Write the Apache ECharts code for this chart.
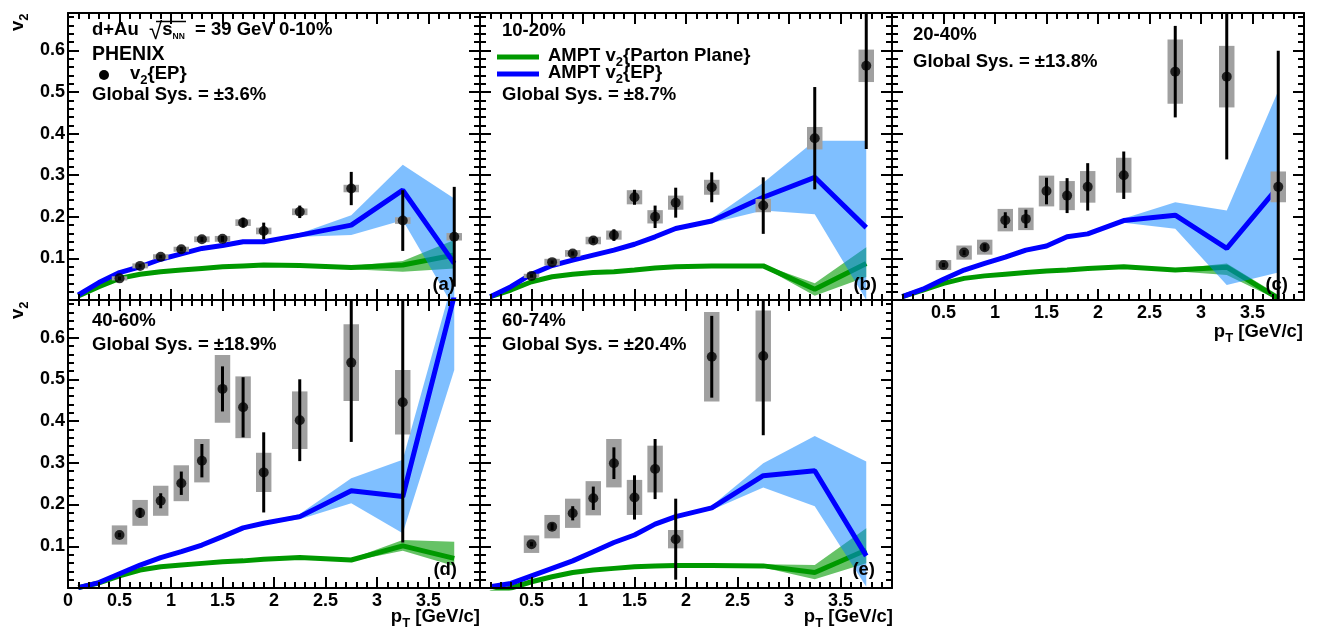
<!DOCTYPE html>
<html><head><meta charset="utf-8">
<script src="https://cdn.jsdelivr.net/npm/echarts@6/dist/echarts.min.js"></script>
<style>html,body{margin:0;padding:0;background:#fff}#c{width:1325px;height:632px}</style>
</head><body><div id="c"></div>
<script>
// ---------------- DATA ----------------
const ptData  = [0.5, 0.7, 0.9, 1.1, 1.3, 1.5, 1.7, 1.9, 2.25, 2.75, 3.25, 3.75];
const ptModel = [0.1, 0.3, 0.5, 0.7, 0.9, 1.1, 1.3, 1.5, 1.7, 1.9, 2.25, 2.75, 3.25, 3.75];
const ptBand  = [1.9, 2.25, 2.75, 3.25, 3.75];

// (a) 0-10%
const v2_a   = [0.052,0.082,0.104,0.122,0.146,0.147,0.186,0.166,0.212,0.268,0.191,0.152];
const stat_a = [0.004,0.004,0.004,0.005,0.006,0.007,0.012,0.020,0.015,0.040,0.073,0.120];
const sys_a  = [0.005,0.006,0.006,0.006,0.007,0.007,0.008,0.008,0.008,0.009,0.008,0.009];
const ep_a   = [0.012,0.042,0.066,0.080,0.098,0.111,0.124,0.131,0.140,0.140,0.156,0.180,0.264,0.088];
const epLo_a = [0.139,0.152,0.156,0.192,-0.020];
const epHi_a = [0.141,0.160,0.204,0.325,0.244];
const pp_a   = [0.010,0.032,0.052,0.062,0.068,0.072,0.076,0.080,0.082,0.084,0.083,0.078,0.084,0.108];
const ppLo_a = [0.083,0.081,0.074,0.068,0.076];
const ppHi_a = [0.085,0.085,0.082,0.094,0.144];

// (b) 10-20%
const v2_b   = [0.058,0.091,0.112,0.143,0.156,0.247,0.200,0.234,0.271,0.227,0.389,0.563];
const stat_b = [0.004,0.004,0.005,0.006,0.014,0.018,0.027,0.036,0.036,0.068,0.123,0.200];
const sys_b  = [0.005,0.008,0.008,0.009,0.011,0.017,0.016,0.017,0.018,0.016,0.027,0.039];
const ep_b   = [0.008,0.032,0.062,0.083,0.096,0.108,0.120,0.134,0.152,0.172,0.190,0.247,0.295,0.174];
const epLo_b = [0.170,0.185,0.215,0.206,0.000];
const epHi_b = [0.174,0.196,0.282,0.383,0.383];
const pp_b   = [0.008,0.024,0.044,0.056,0.062,0.066,0.068,0.072,0.077,0.080,0.082,0.082,0.026,0.088];
const ppLo_b = [0.079,0.080,0.079,0.010,0.055];
const ppHi_b = [0.081,0.084,0.085,0.040,0.127];

// (c) 20-40%
const v2_c   = [0.084,0.114,0.127,0.192,0.195,0.262,0.251,0.272,0.300,0.549,0.537,0.272];
const stat_c = [0.005,0.006,0.008,0.019,0.022,0.032,0.042,0.057,0.057,0.110,0.199,0.327];
const sys_c  = [0.012,0.017,0.018,0.027,0.027,0.037,0.035,0.038,0.042,0.077,0.074,0.037];
const ep_c   = [0.008,0.026,0.050,0.072,0.088,0.103,0.120,0.130,0.152,0.159,0.191,0.204,0.124,0.272];
const epLo_c = [0.157,0.186,0.171,0.036,0.066];
const epHi_c = [0.161,0.196,0.235,0.215,0.503];
const pp_c   = [0.008,0.024,0.040,0.052,0.058,0.062,0.066,0.070,0.072,0.076,0.080,0.072,0.079,0.004];
const ppLo_c = [0.075,0.078,0.069,0.060,0.000];
const ppHi_c = [0.077,0.082,0.075,0.088,0.012];

// (d) 40-60%
const v2_d   = [0.127,0.180,0.209,0.251,0.305,0.477,0.433,0.277,0.402,0.540,0.445];
const stat_d = [0.005,0.012,0.018,0.028,0.040,0.054,0.072,0.096,0.098,0.190,0.336];
const sys_d  = [0.023,0.031,0.036,0.043,0.052,0.081,0.074,0.047,0.069,0.092,0.077];
const ep_d   = [0.001,0.013,0.034,0.055,0.073,0.087,0.103,0.123,0.144,0.155,0.171,0.233,0.219,0.700];
const epLo_d = [0.153,0.165,0.203,0.131,0.522];
const epHi_d = [0.157,0.177,0.263,0.307,0.750];
const pp_d   = [0.001,0.012,0.029,0.043,0.051,0.055,0.059,0.063,0.065,0.069,0.073,0.067,0.101,0.071];
const ppLo_d = [0.068,0.071,0.064,0.089,0.053];
const ppHi_d = [0.070,0.075,0.070,0.115,0.111];

// (e) 60-74%
const v2_e   = [0.105,0.147,0.179,0.215,0.299,0.217,0.285,0.117,0.554,0.556];
const stat_e = [0.005,0.008,0.017,0.028,0.038,0.053,0.072,0.097,0.098,0.190];
const sys_e  = [0.021,0.028,0.035,0.041,0.058,0.042,0.056,0.022,0.107,0.109];
const ep_e   = [0.003,0.011,0.029,0.047,0.065,0.087,0.109,0.127,0.153,0.171,0.192,0.269,0.281,0.077];
const epLo_e = [0.169,0.187,0.241,0.196,0.003];
const epHi_e = [0.173,0.197,0.299,0.364,0.303];
const pp_e   = [-0.012,0.000,0.015,0.027,0.037,0.043,0.047,0.051,0.053,0.054,0.054,0.053,0.037,0.091];
const ppLo_e = [0.053,0.052,0.049,0.021,0.059];
const ppHi_e = [0.055,0.056,0.057,0.055,0.143];

const centralities = ['0-10%', '10-20%', '20-40%', '40-60%', '60-74%'];
const globalSys    = ['\u00b13.6%', '\u00b18.7%', '\u00b113.8%', '\u00b118.9%', '\u00b120.4%'];
const panelTags    = ['(a)', '(b)', '(c)', '(d)', '(e)'];

// ---------------- LAYOUT ----------------
const FONT = "'Liberation Sans', Arial, Helvetica, sans-serif";
const BF = 'bold 18.5px ' + FONT;
const BLUE = '#0000ff', GREEN = '#009900';
const BLUE_BAND = 'rgba(0,128,255,0.5)', GREEN_BAND = 'rgba(0,153,0,0.6)';

const panels = [
  {v:v2_a, st:stat_a, sy:sys_a, ep:ep_a, epLo:epLo_a, epHi:epHi_a, pp:pp_a, ppLo:ppLo_a, ppHi:ppHi_a},
  {v:v2_b, st:stat_b, sy:sys_b, ep:ep_b, epLo:epLo_b, epHi:epHi_b, pp:pp_b, ppLo:ppLo_b, ppHi:ppHi_b},
  {v:v2_c, st:stat_c, sy:sys_c, ep:ep_c, epLo:epLo_c, epHi:epHi_c, pp:pp_c, ppLo:ppLo_c, ppHi:ppHi_c},
  {v:v2_d, st:stat_d, sy:sys_d, ep:ep_d, epLo:epLo_d, epHi:epHi_d, pp:pp_d, ppLo:ppLo_d, ppHi:ppHi_d},
  {v:v2_e, st:stat_e, sy:sys_e, ep:ep_e, epLo:epLo_e, epHi:epHi_e, pp:pp_e, ppLo:ppLo_e, ppHi:ppHi_e},
];
const grids = [
  {left:68,  top:13,  width:412, height:287},
  {left:480, top:13,  width:412, height:287},
  {left:892, top:13,  width:412, height:287},
  {left:68,  top:300, width:412, height:288},
  {left:480, top:300, width:412, height:288},
];
const xLab = [false, false, true, true, true];
const xZero = [false, false, false, true, false];
const yLab = [true, false, false, true, false];

const tickLine = {color:'#000', width:2};
function xAx(gi, pos, showLabel, showZero) {
  return {type:'value', gridIndex:gi, position:pos, min:0, max:4, interval:0.5, z:10,
    axisLine:{show:true, onZero:false, lineStyle:{color:'#000', width:2}},
    axisTick:{show:true, inside:true, length:11, lineStyle:tickLine},
    minorTick:{show:true, splitNumber:5, length:6, lineStyle:tickLine},
    splitLine:{show:false}, minorSplitLine:{show:false},
    axisLabel:{show:showLabel, margin:4, color:'#000', fontFamily:FONT, fontWeight:'bold', fontSize:18,
      showMinLabel:true, showMaxLabel:true,
      formatter: v => (v > 3.9 || (v < 0.01 && !showZero)) ? '' : String(+v.toFixed(2))}
  };
}
function yAx(gi, pos, showLabel) {
  return {type:'value', gridIndex:gi, position:pos, min:0, max:0.69, interval:0.1, z:10,
    axisLine:{show:true, onZero:false, lineStyle:{color:'#000', width:2}},
    axisTick:{show:true, inside:true, length:11, lineStyle:tickLine},
    minorTick:{show:true, splitNumber:5, length:6, lineStyle:tickLine},
    splitLine:{show:false}, minorSplitLine:{show:false},
    axisLabel:{show:showLabel, margin:3, color:'#000', fontFamily:FONT, fontWeight:'bold', fontSize:18,
      formatter: v => (v > 0.05 && v < 0.65) ? v.toFixed(1) : ''}
  };
}

const xAxis = [], yAxis = [], series = [];
grids.forEach((g, i) => {
  xAxis.push(xAx(i, 'bottom', xLab[i], xZero[i]));
  xAxis.push(xAx(i, 'top', false, false));
  yAxis.push(yAx(i, 'left', yLab[i]));
  yAxis.push(yAx(i, 'right', false));
});

function band(i, lo, hi, color, z) {
  return {type:'custom', xAxisIndex:2*i, yAxisIndex:2*i, clip:true, z, silent:true,
    data: ptBand.map((x, k) => [x, lo[k], hi[k]]),
    renderItem: (params, api) => {
      if (params.dataIndex !== 0) return null;
      const pts = [];
      for (let k = 0; k < ptBand.length; k++) pts.push(api.coord([ptBand[k], hi[k]]));
      for (let k = ptBand.length - 1; k >= 0; k--) pts.push(api.coord([ptBand[k], lo[k]]));
      return {type:'polygon', shape:{points:pts}, style:{fill:color}};
    }};
}
function line(i, arr, color, z) {
  return {type:'line', xAxisIndex:2*i, yAxisIndex:2*i, z, silent:true, symbol:'none', clip:true,
    data: ptModel.map((x, k) => [x, arr[k]]), lineStyle:{color, width:5}};
}

panels.forEach((P, i) => {
  const pts = P.v.map((v, k) => [ptData[k], v, P.st[k], P.sy[k]]);
  series.push(band(i, P.ppLo, P.ppHi, GREEN_BAND, 1));
  series.push(line(i, P.pp, GREEN, 2));
  series.push(band(i, P.epLo, P.epHi, BLUE_BAND, 3));
  series.push(line(i, P.ep, BLUE, 4));
  series.push({type:'custom', xAxisIndex:2*i, yAxisIndex:2*i, clip:true, z:5, silent:true, data:pts,
    renderItem: (params, api) => {
      const x = api.value(0), y = api.value(1), s = api.value(3);
      const a = api.coord([x - 0.075, y + s]), b = api.coord([x + 0.075, y - s]);
      return {type:'rect', shape:{x:a[0], y:a[1], width:b[0]-a[0], height:b[1]-a[1]}, style:{fill:'#a0a0a0'}};
    }});
  series.push({type:'custom', xAxisIndex:2*i, yAxisIndex:2*i, clip:true, z:6, silent:true, data:pts,
    renderItem: (params, api) => {
      const x = api.value(0), y = api.value(1), e = api.value(2);
      const a = api.coord([x, y + e]), b = api.coord([x, y - e]);
      return {type:'line', shape:{x1:a[0], y1:a[1], x2:b[0], y2:b[1]}, style:{stroke:'#000', lineWidth:3}};
    }});
  series.push({type:'scatter', xAxisIndex:2*i, yAxisIndex:2*i, z:7, silent:true, symbol:'circle', symbolSize:10,
    itemStyle:{color:'#000'}, data: pts.map(p => [p[0], p[1]])});
});

// ---------------- TEXT ----------------
const RICH = {
  sb: {font:'bold 13px ' + FONT, padding:[12,0,0,0], lineHeight:22},
  nn: {font:'bold 8.5px ' + FONT, padding:[13,0,0,0], lineHeight:22},
  sq: {font:'24px ' + FONT, padding:[4,0,0,0], lineHeight:22},
};
function txt(x, y, text, align, extra) {
  return Object.assign({type:'text', x, y, z:100, silent:true,
    style:{text, font:BF, fill:'#000', lineHeight:22, align:align||'left', verticalAlign:'middle',
      textAlign:align||'left', textVerticalAlign:'middle', rich:RICH}}, extra||{});
}
const graphic = [
  txt(92, 30, 'd+Au  {sq|\u221a}s{nn|NN}  = 39 GeV ' + centralities[0]),
  {type:'line', z:100, silent:true, shape:{x1:156, y1:21.5, x2:186, y2:21.5}, style:{stroke:'#000', lineWidth:1.5}},
  txt(92, 54.5, 'PHENIX', 'left', {style:{text:'PHENIX', font:'bold 19.5px ' + FONT, fill:'#000', align:'left', verticalAlign:'middle', textAlign:'left', textVerticalAlign:'middle'}}),
  {type:'circle', z:100, silent:true, shape:{cx:104, cy:75, r:5}, style:{fill:'#000'}},
  txt(130, 74, 'v{sb|2}{EP}'),
  txt(92, 94.5, 'Global Sys. = ' + globalSys[0]),

  txt(502, 31, centralities[1]),
  {type:'line', z:100, silent:true, shape:{x1:497, y1:57, x2:539, y2:57}, style:{stroke:GREEN, lineWidth:5}},
  txt(548, 56, 'AMPT v{sb|2}{Parton Plane}'),
  {type:'line', z:100, silent:true, shape:{x1:497, y1:74, x2:539, y2:74}, style:{stroke:BLUE, lineWidth:5}},
  txt(548, 73, 'AMPT v{sb|2}{EP}'),
  txt(502, 95, 'Global Sys. = ' + globalSys[1]),

  txt(913, 35, centralities[2]),
  txt(913, 62, 'Global Sys. = ' + globalSys[2]),

  txt(92, 321, centralities[3]),
  txt(92, 345, 'Global Sys. = ' + globalSys[3]),

  txt(502, 321, centralities[4]),
  txt(502, 345, 'Global Sys. = ' + globalSys[4]),

  txt(455, 285, panelTags[0], 'right'),
  txt(877, 285, panelTags[1], 'right'),
  txt(1288, 285, panelTags[2], 'right'),
  txt(457, 570, panelTags[3], 'right'),
  txt(875, 570, panelTags[4], 'right'),

  txt(1303, 332, 'p{sb|T} [GeV/c]', 'right'),
  txt(480, 617, 'p{sb|T} [GeV/c]', 'right'),
  txt(893, 617, 'p{sb|T} [GeV/c]', 'right'),

  txt(18, 31, 'v{sb|2}', 'left', {rotation: Math.PI/2}),
  txt(18, 319, 'v{sb|2}', 'left', {rotation: Math.PI/2}),
];

const chart = echarts.init(document.getElementById('c'), null, {renderer:'canvas'});
chart.setOption({
  animation:false,
  backgroundColor:'#fff',
  grid: grids.map(g => Object.assign({containLabel:false, outerBoundsMode:'none'}, g)),
  xAxis, yAxis, series, graphic
});
</script></body></html>
